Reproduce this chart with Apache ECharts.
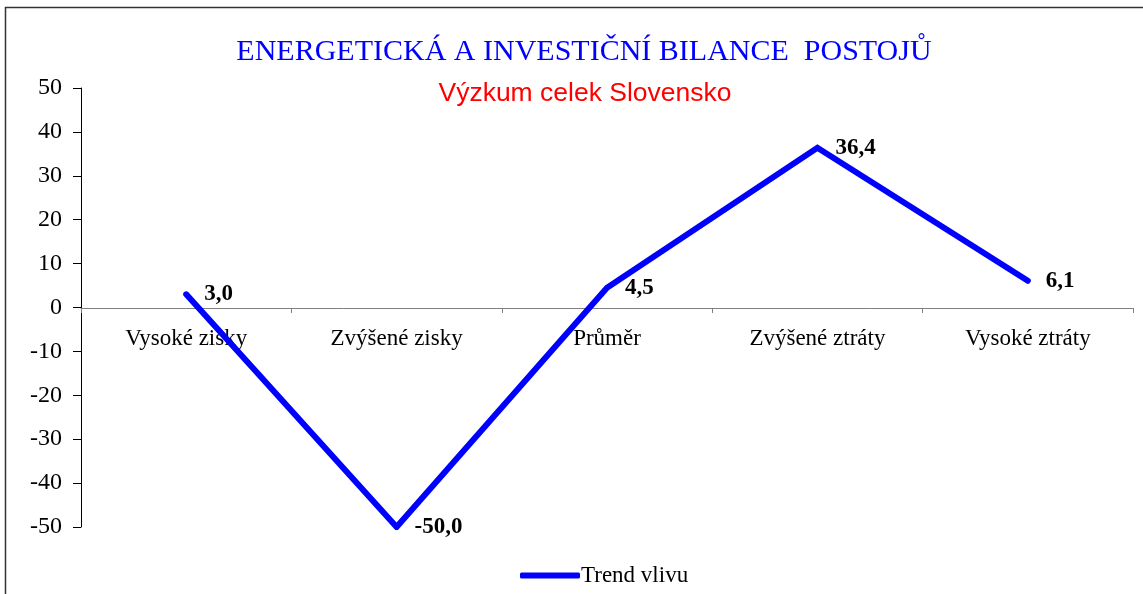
<!DOCTYPE html>
<html>
<head>
<meta charset="utf-8">
<script src="https://cdn.jsdelivr.net/npm/echarts@6/dist/echarts.min.js"></script>
<style>
  html, body { margin: 0; padding: 0; background: #fff; }
  #chart { width: 1143px; height: 594px; }
</style>
</head>
<body>
<div id="chart"></div>
<script>
const categories = ['Vysoké zisky', 'Zvýšené zisky', 'Průměr', 'Zvýšené ztráty', 'Vysoké ztráty']
const trendValues = [3.0, -50.0, 4.5, 36.4, 6.1]
const seriesName = 'Trend vlivu'

const chart = echarts.init(document.getElementById('chart'))

// grid: top 88 (=50), bottom 527 (=-50), zero line at 308
const option = {
  animation: false,
  backgroundColor: '#fff',
  title: [
    {
      text: 'ENERGETICKÁ A INVESTIČNÍ BILANCE  POSTOJŮ',
      left: 579,
      top: 32,
      textAlign: 'center',
      textStyle: { fontFamily: 'Liberation Serif', fontWeight: 'normal', fontSize: 30, color: '#0000ff' }
    },
    {
      text: 'Výzkum celek Slovensko',
      left: 580,
      top: 75,
      textAlign: 'center',
      textStyle: { fontFamily: 'Liberation Sans', fontWeight: 'normal', fontSize: 26.5, color: '#ff0000' }
    }
  ],
  graphic: [
    {
      type: 'rect',
      shape: { x: 5.5, y: 7.5, width: 1160, height: 620 },
      style: { fill: 'none', stroke: '#333', lineWidth: 1.5 },
      silent: true
    }
  ],
  legend: {
    data: [seriesName],
    left: 515,
    top: 559,
    itemWidth: 60,
    itemHeight: 6,
    itemGap: 4,
    icon: 'roundRect',
    textStyle: { fontFamily: 'Liberation Serif', fontSize: 23, color: '#000', padding: [0, 0, 0, -4] }
  },
  grid: {
    left: 81,
    right: 10,
    top: 88,
    bottom: 67,
    containLabel: false
  },
  xAxis: {
    type: 'category',
    data: categories,
    boundaryGap: true,
    position: 'bottom',
    offset: -219,
    axisLine: { onZero: false, lineStyle: { color: '#808080', width: 1 } },
    axisTick: { show: true, length: 5, lineStyle: { color: '#808080' } },
    axisLabel: { fontFamily: 'Liberation Serif', fontSize: 23, color: '#000', margin: 19 },
    splitLine: { show: false }
  },
  yAxis: {
    type: 'value',
    min: -50,
    max: 50,
    interval: 10,
    axisLine: { show: true, lineStyle: { color: '#000', width: 1 } },
    axisTick: { show: true, length: 8, lineStyle: { color: '#000' } },
    axisLabel: { fontFamily: 'Liberation Serif', fontSize: 24, color: '#000', margin: 19 },
    splitLine: { show: false }
  },
  series: [
    {
      name: seriesName,
      type: 'line',
      data: trendValues,
      showSymbol: true,
      symbol: 'circle',
      symbolSize: 2,
      lineStyle: { color: '#0000ff', width: 6, cap: 'round', join: 'miter' },
      itemStyle: { color: '#0000ff' },
      label: {
        show: true,
        position: 'right',
        distance: 17,
        fontFamily: 'Liberation Serif',
        fontWeight: 'bold',
        fontSize: 23,
        color: '#000',
        formatter: (p) => p.value.toFixed(1).replace('.', ',')
      }
    }
  ]
}

chart.setOption(option)
</script>
</body>
</html>
